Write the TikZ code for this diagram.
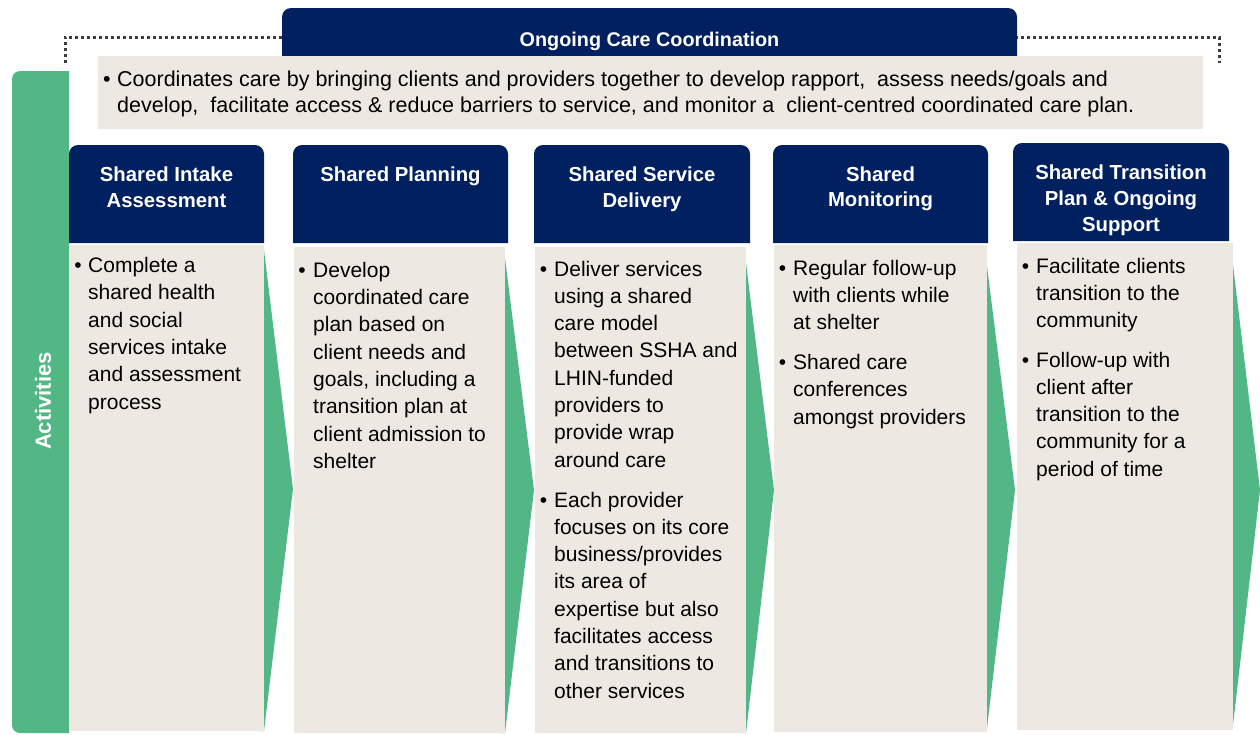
\documentclass[tikz,border=0pt]{standalone}
\usepackage{fontspec}
\setmainfont{Liberation Sans}
\definecolor{navy}{HTML}{002060}
\definecolor{grn}{HTML}{52B784}
\definecolor{beige}{HTML}{EDE9E2}
\definecolor{dotgray}{HTML}{3C3C3C}
\begin{document}
\begin{tikzpicture}[x=1pt,y=-1pt,
  bodytxt/.style={inner sep=0pt, anchor=base west, font=\fontsize{21}{27.3}\selectfont},
  bul/.style={inner sep=0pt, anchor=base, font=\fontsize{21}{27.3}\selectfont},
  headtxt/.style={inner sep=0pt, anchor=base, text=white, font=\fontsize{20.3}{25.9}\selectfont\bfseries},
  beigebox/.style={fill=beige, draw=none, inner sep=0pt, anchor=north west},
  dotline/.style={draw=dotgray, line width=3pt, dash pattern=on 3pt off 3pt},
  arrowfill/.style={fill=grn}]
\useasboundingbox (0,0) rectangle (1260,734);
% left green bar
\fill[grn] (69,71) -- (40,71) [rounded corners=8pt] -- (12,71) -- (12,733) -- (40,733) [sharp corners] -- (69,733) -- cycle;
% dotted bracket
\coordinate (dl1) at (65,63);
\coordinate (dl2) at (65,37);
\coordinate (dl3) at (284,37);
\coordinate (dr1) at (1015,37);
\coordinate (dr2) at (1219,37);
\coordinate (dr3) at (1219,63);
\draw[dotline] (dl1) -- (dl2) -- (dl3);
\draw[dotline] (dr1) -- (dr2) -- (dr3);
% top navy header
\fill[navy] (282,60) -- (282,30) [rounded corners=9pt] -- (282,8) -- (1017,8) -- (1017,30) [sharp corners] -- (1017,60) -- cycle;
\node[headtxt, font=\fontsize{19.8}{24}\selectfont\bfseries] (hTop) at (649.5,46) {Ongoing Care Coordination};
% top beige box
\node[beigebox, minimum width=1105pt, minimum height=73pt] (topbox) at (98,56) {};
\node[bul, font=\fontsize{21.5}{26.6}\selectfont] (tb) at (107,86) {•};
\node[bodytxt, font=\fontsize{21.5}{26.6}\selectfont] (tt) at (117,86) {\parbox[t]{1100pt}{Coordinates care by bringing clients and providers together to develop rapport, \ assess needs/goals and\\develop, \ facilitate access \& reduce barriers to service, and monitor a \ client-centred coordinated care plan.}};
% green arrows behind columns
\fill[arrowfill] (260,250) -- (264,250) -- (293,489) -- (264,731) -- (260,731) -- cycle;
\fill[arrowfill] (501,258) -- (505,258) -- (534,490) -- (505,733) -- (501,733) -- cycle;
\fill[arrowfill] (742,263) -- (746,263) -- (774,490) -- (746,733) -- (742,733) -- cycle;
\fill[arrowfill] (983,266) -- (987,266) -- (1015,490) -- (987,728) -- (983,728) -- cycle;
\fill[arrowfill] (1229,265) -- (1233,265) -- (1260,490) -- (1233,725) -- (1229,725) -- cycle;
% beige column boxes
\node[beigebox, minimum width=195pt, minimum height=486pt] (b1) at (69,245) {};
\node[beigebox, minimum width=211pt, minimum height=486pt] (b2) at (294,247) {};
\node[beigebox, minimum width=211pt, minimum height=486pt] (b3) at (535,247) {};
\node[beigebox, minimum width=213pt, minimum height=487pt] (b4) at (774,245) {};
\node[beigebox, minimum width=216pt, minimum height=487pt] (b5) at (1017,243) {};
% column headers
\fill[navy] (69,243) -- (69,170) [rounded corners=9pt] -- (69,145) -- (264,145) -- (264,170) [sharp corners] -- (264,243) -- cycle;
\fill[navy] (293,243) -- (293,170) [rounded corners=9pt] -- (293,145) -- (508,145) -- (508,170) [sharp corners] -- (508,243) -- cycle;
\fill[navy] (534,243) -- (534,170) [rounded corners=9pt] -- (534,145) -- (750,145) -- (750,170) [sharp corners] -- (750,243) -- cycle;
\fill[navy] (773,243) -- (773,170) [rounded corners=9pt] -- (773,145) -- (988,145) -- (988,170) [sharp corners] -- (988,243) -- cycle;
\fill[navy] (1013,241) -- (1013,170) [rounded corners=9pt] -- (1013,143) -- (1229,143) -- (1229,170) [sharp corners] -- (1229,241) -- cycle;
\node[headtxt] (h1) at (166.5,181.5) {\parbox[t]{190pt}{\centering Shared Intake\\Assessment}};
\node[headtxt] (h2) at (400.5,181.5) {\parbox[t]{210pt}{\centering Shared Planning}};
\node[headtxt] (h3) at (642,181.5) {\parbox[t]{210pt}{\centering Shared Service\\Delivery}};
\node[headtxt] (h4) at (880.5,181) {\parbox[t]{210pt}{\centering Shared\\Monitoring}};
\node[headtxt] (h5) at (1121,179.5) {\parbox[t]{210pt}{\centering Shared Transition\\Plan \& Ongoing\\Support}};
% column 1
\node[bul] (c1b1) at (78,272.5) {•};
\node[bodytxt] (c1t1) at (88,272.5) {\parbox[t]{250pt}{Complete a\\shared health\\and social\\services intake\\and assessment\\process}};
% column 2
\node[bul] (c2b1) at (302,277.3) {•};
\node[bodytxt] (c2t1) at (313,277.3) {\parbox[t]{250pt}{Develop\\coordinated care\\plan based on\\client needs and\\goals, including a\\transition plan at\\client admission to\\shelter}};
% column 3
\node[bul] (c3b1) at (543.5,276) {•};
\node[bodytxt] (c3t1) at (554,276) {\parbox[t]{250pt}{Deliver services\\using a shared\\care model\\between SSHA and\\LHIN-funded\\providers to\\provide wrap\\around care}};
\node[bul] (c3b2) at (543.5,507) {•};
\node[bodytxt] (c3t2) at (554,507) {\parbox[t]{250pt}{Each provider\\focuses on its core\\business/provides\\its area of\\expertise but also\\facilitates access\\and transitions to\\other services}};
% column 4
\node[bul] (c4b1) at (782.5,275) {•};
\node[bodytxt] (c4t1) at (793,275) {\parbox[t]{250pt}{Regular follow-up\\with clients while\\at shelter}};
\node[bul] (c4b2) at (782.5,369.5) {•};
\node[bodytxt] (c4t2) at (793,369.5) {\parbox[t]{250pt}{Shared care\\conferences\\amongst providers}};
% column 5
\node[bul] (c5b1) at (1025.5,273.3) {•};
\node[bodytxt] (c5t1) at (1036,273.3) {\parbox[t]{250pt}{Facilitate clients\\transition to the\\community}};
\node[bul] (c5b2) at (1025.5,367) {•};
\node[bodytxt] (c5t2) at (1036,367) {\parbox[t]{250pt}{Follow-up with\\client after\\transition to the\\community for a\\period of time}};
% activities label
\node[rotate=90, inner sep=0pt, text=white, font=\fontsize{22}{22}\selectfont\bfseries] (act) at (43,401) {Activities};
\end{tikzpicture}
\end{document}
